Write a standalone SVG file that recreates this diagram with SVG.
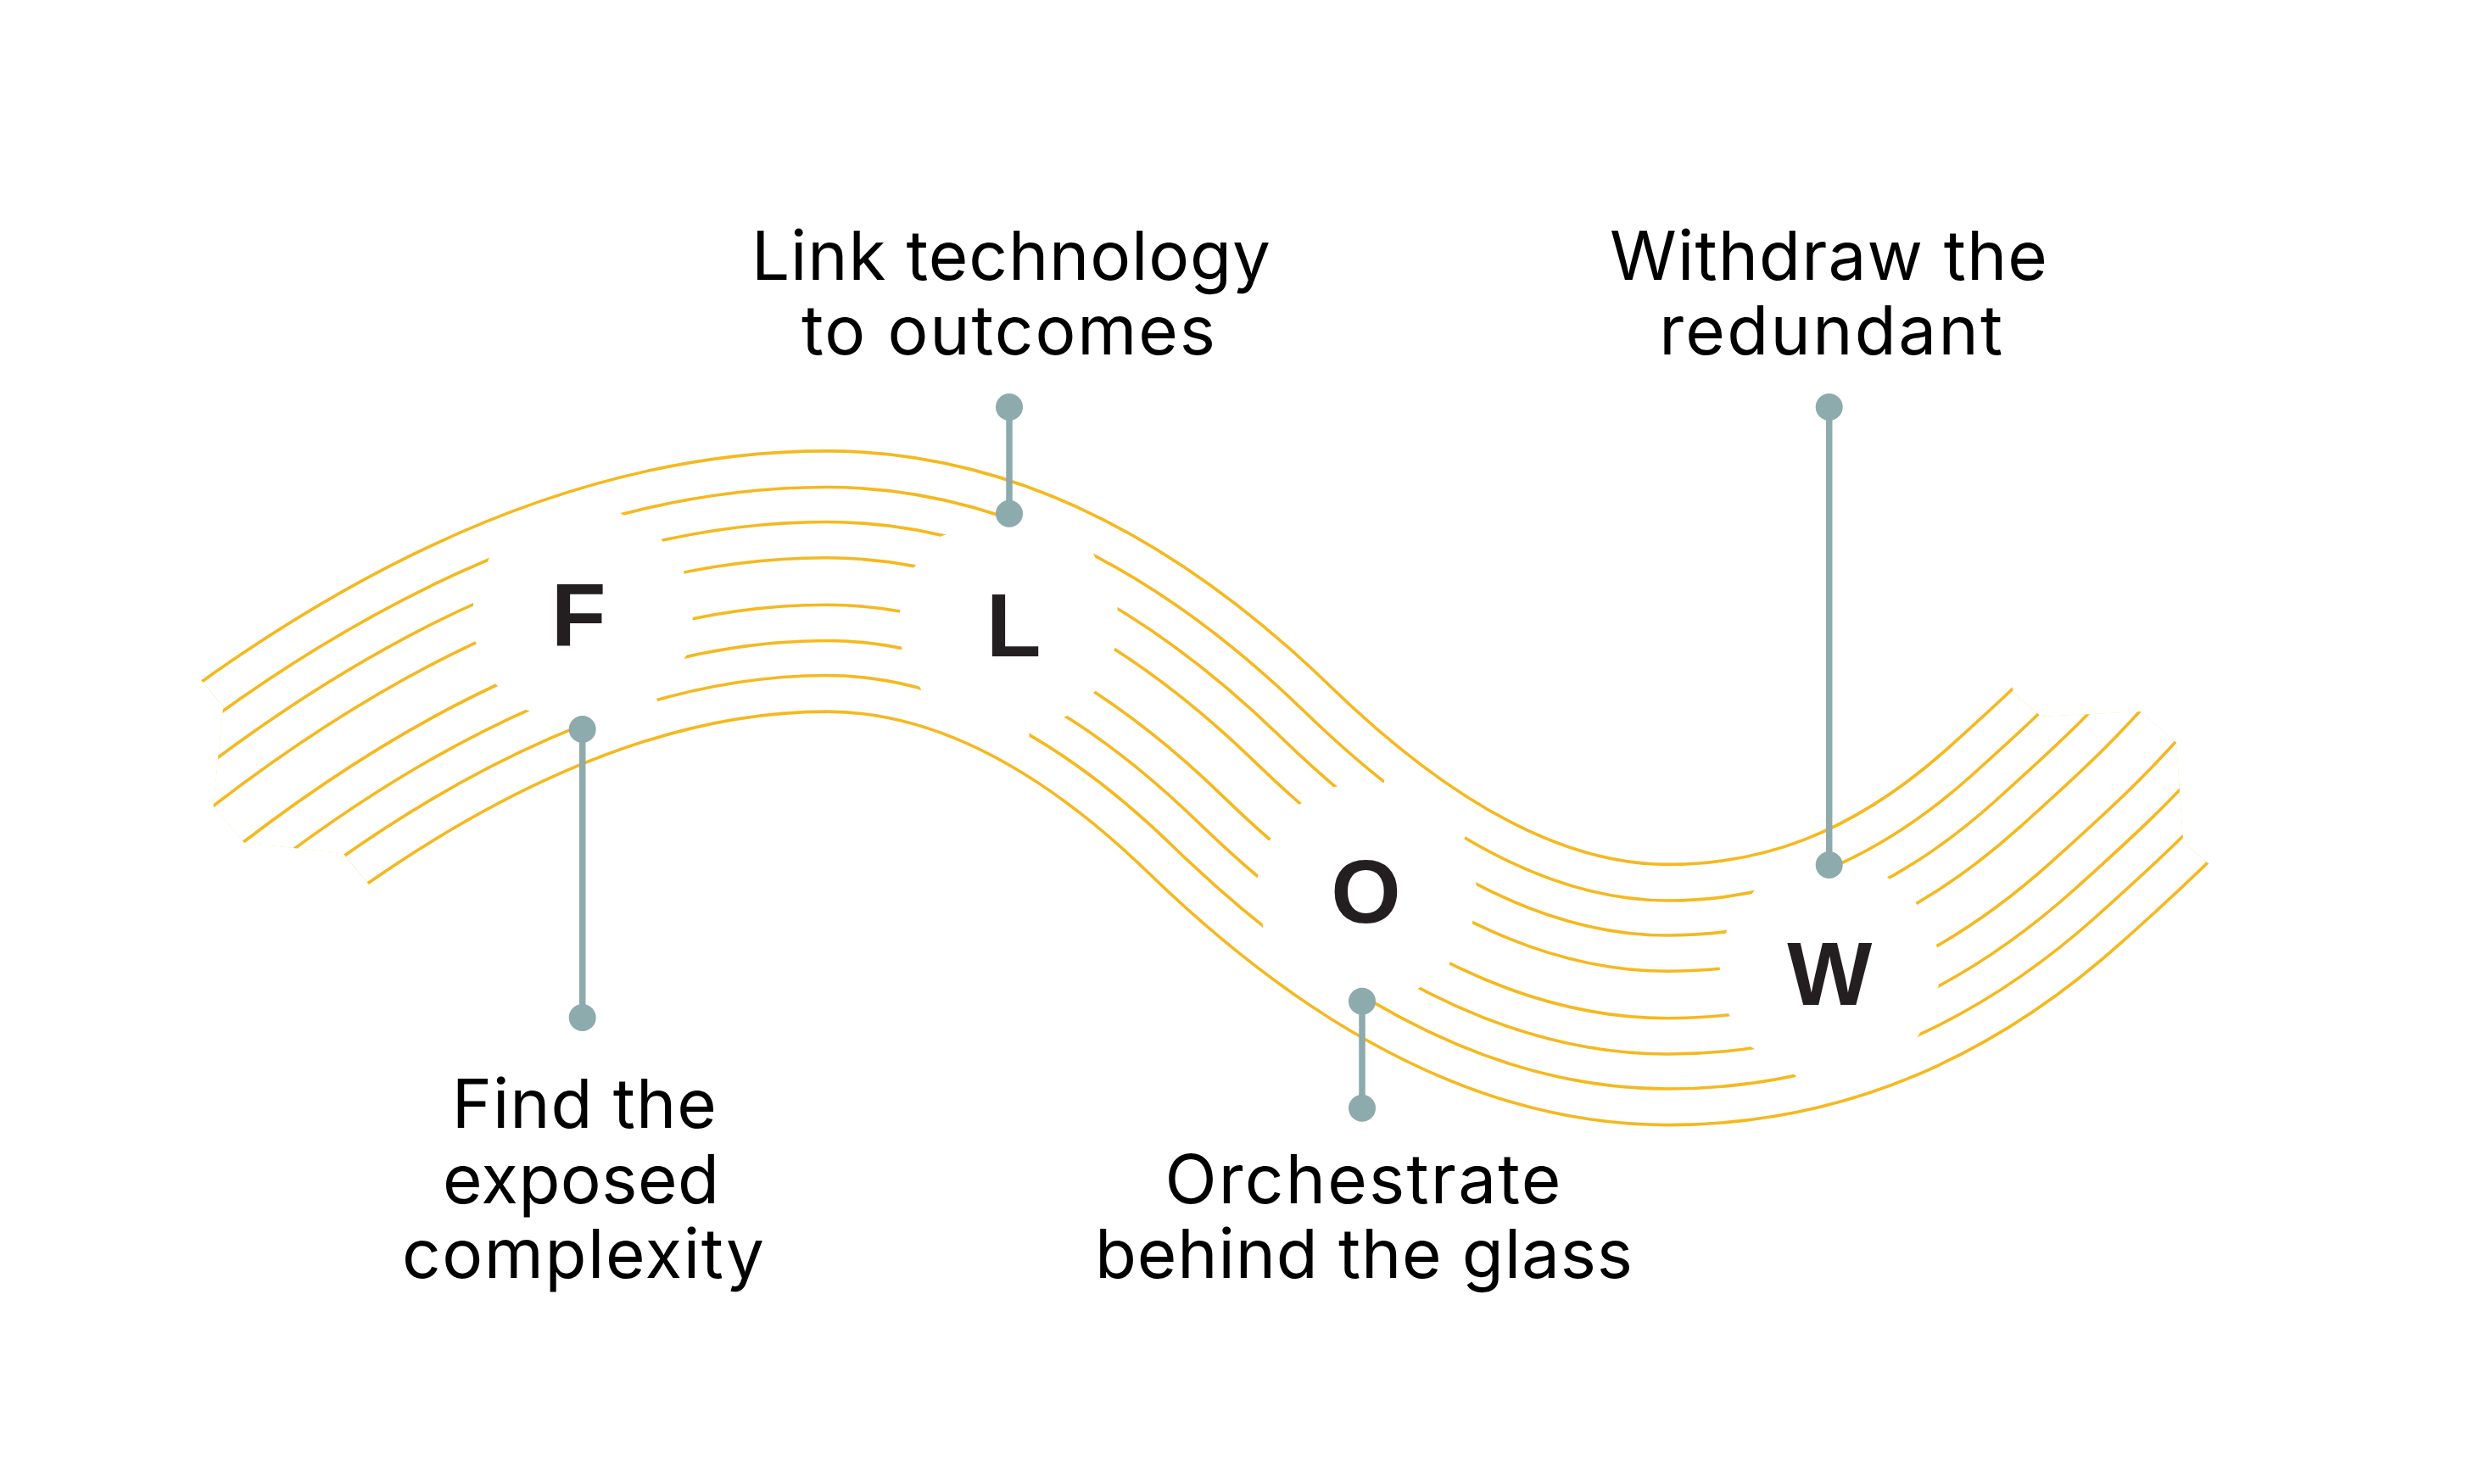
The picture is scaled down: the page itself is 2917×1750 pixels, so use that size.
<svg xmlns="http://www.w3.org/2000/svg" xmlns:xlink="http://www.w3.org/1999/xlink" width="2917" height="1750" viewBox="0 0 2917 1750">
<style>
.edgeO{fill:none;stroke:#F5B81E;stroke-width:310.8}
.edgeW{fill:none;stroke:#FFFFFF;stroke-width:303.6}
.o1{fill:none;stroke:#F5B81E;stroke-width:225.6}
.w1{fill:none;stroke:#FFFFFF;stroke-width:218.4}
.o2{fill:none;stroke:#F5B81E;stroke-width:143.6}
.w2{fill:none;stroke:#FFFFFF;stroke-width:136.4}
.o3{fill:none;stroke:#F5B81E;stroke-width:59}
.w3{fill:none;stroke:#FFFFFF;stroke-width:51.8}
.lead{stroke:#8DAAAC;stroke-width:7.5;fill:none}
.dot{fill:#8DAAAC}
.letter{font-family:"Liberation Sans",Arial,sans-serif;font-weight:bold;font-size:106px;fill:#231F20;text-anchor:middle}
.label{font-family:Inter,"Liberation Sans",Arial,sans-serif;font-size:80px;fill:#000;text-anchor:middle}
</style>
<defs>
<path id="spine" d="M180,1044 C480,789 745,685.5 975,685.5 C1137,685.5 1299,762 1461,919 C1629.3,1082.3 1797.7,1173 1966,1173 C2110.7,1173 2255.3,1126.2 2400,996 C2466.7,936 2533.3,876.7 2600,790"/>
<clipPath id="bandEnds">
<polygon points="237,802 263.3,833.3 257.3,892.3 251.7,950.7 287.3,993.3 346.7,1000 404.3,1006 430.7,1037.7 600,1260 1966,1520 2750,1150 2606,1020 2574,993.3 2570,934.3 2566,875.7 2523.3,839 2465,842.3 2406.7,845 2375.7,818.3 2300,640 975,380 120,690"/>
</clipPath>
<mask id="letterGaps" maskUnits="userSpaceOnUse" x="0" y="0" width="2917" height="1750">
<rect x="0" y="0" width="2917" height="1750" fill="#FFFFFF"/>
<polygon fill="#000000" points="570,600 720,560 728,603 779,635 806,673 817,728 810,772 774,823 790,880 700,900 687,860 614.3,835 581.7,804 558,751 558,705 580,650"/>
<polygon fill="#000000" points="1200,560 1280,600 1286,646.7 1317.7,711 1316.7,759 1294,812.3 1262.7,842.3 1213.3,862.7 1215,915 1090,860 1086,813.3 1063.3,765.7 1060.7,722 1077.7,669 1110,632.3 1190,605.7"/>
<polygon fill="#000000" points="1640,880 1740,960 1726,990 1741.7,1046.7 1735.7,1090.7 1706.7,1140 1669,1168 1606,1181 1560,1215 1470,1130 1490,1100 1482,1036.7 1496,992 1532.7,948 1573,928 1631.7,923.3"/>
<polygon fill="#000000" points="2060,1000 2156.7,1020 2225,1034.3 2258.3,1063.3 2284,1116.7 2285.7,1163.3 2262.7,1220 2200,1300 2125,1300 2117.3,1268.3 2064.3,1234.3 2038.3,1196 2027.3,1140 2036,1096.7 2070,1047.7"/>
</mask>
</defs>
<rect x="0" y="0" width="2917" height="1750" fill="#FFFFFF"/>
<g id="flow-band" clip-path="url(#bandEnds)">
<g id="band-edges">
<use xlink:href="#spine" class="edgeO"/>
<use xlink:href="#spine" class="edgeW"/>
</g>
<g id="band-inner" mask="url(#letterGaps)">
<use xlink:href="#spine" class="o1"/>
<use xlink:href="#spine" class="w1"/>
<use xlink:href="#spine" class="o2"/>
<use xlink:href="#spine" class="w2"/>
<use xlink:href="#spine" class="o3"/>
<use xlink:href="#spine" class="w3"/>
</g>
</g>
<g id="connectors">
<line class="lead" x1="686.7" y1="860" x2="686.7" y2="1200"/>
<circle class="dot" cx="686.7" cy="860" r="16"/>
<circle class="dot" cx="686.7" cy="1200" r="16"/>
<line class="lead" x1="1190" y1="480" x2="1190" y2="605.7"/>
<circle class="dot" cx="1190" cy="480" r="16"/>
<circle class="dot" cx="1190" cy="605.7" r="16"/>
<line class="lead" x1="1606" y1="1180.7" x2="1606" y2="1306.7"/>
<circle class="dot" cx="1606" cy="1180.7" r="16"/>
<circle class="dot" cx="1606" cy="1306.7" r="16"/>
<line class="lead" x1="2156.7" y1="480" x2="2156.7" y2="1020"/>
<circle class="dot" cx="2156.7" cy="480" r="16"/>
<circle class="dot" cx="2156.7" cy="1020" r="16"/>
</g>
<g id="node-F">
<text class="letter" x="682" y="762">F</text>
<text class="label"><tspan x="688.8" y="1330.3" textLength="312" lengthAdjust="spacing">Find the</tspan><tspan x="685" y="1418.5" textLength="326" lengthAdjust="spacing">exposed</tspan><tspan x="687.5" y="1506.7" textLength="427" lengthAdjust="spacing">complexity</tspan></text>
</g>
<g id="node-L">
<text class="letter" x="1195" y="774">L</text>
<text class="label"><tspan x="1192" y="330" textLength="612" lengthAdjust="spacing">Link technology</tspan><tspan x="1189" y="418" textLength="488" lengthAdjust="spacing">to outcomes</tspan></text>
</g>
<g id="node-O">
<text class="letter" x="1610.5" y="1088">O</text>
<text class="label"><tspan x="1607" y="1419" textLength="467" lengthAdjust="spacing">Orchestrate</tspan><tspan x="1608" y="1506.7" textLength="634" lengthAdjust="spacing">behind the glass</tspan></text>
</g>
<g id="node-W">
<text class="letter" x="2157.3" y="1185">W</text>
<text class="label"><tspan x="2156" y="330" textLength="516" lengthAdjust="spacing">Withdraw the</tspan><tspan x="2158.7" y="418" textLength="405" lengthAdjust="spacing">redundant</tspan></text>
</g>
</svg>
